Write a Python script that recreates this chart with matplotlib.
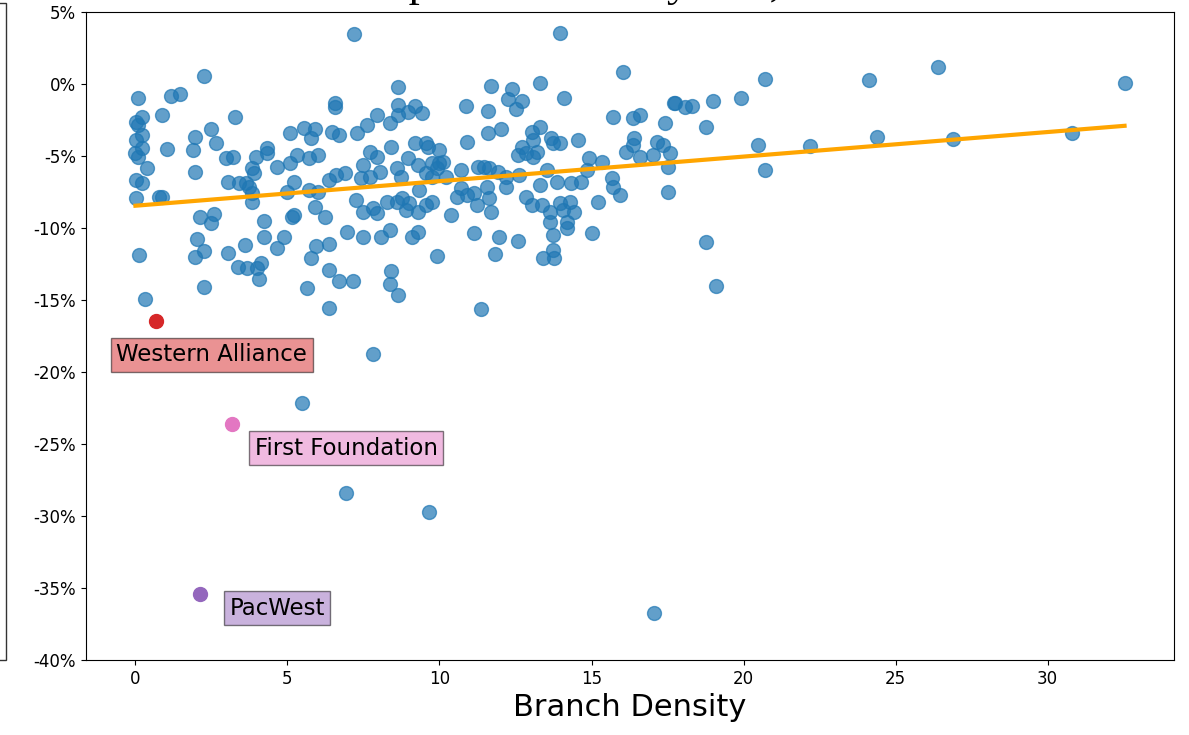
import matplotlib.pyplot as plt
from matplotlib.patches import Rectangle
from matplotlib.ticker import PercentFormatter

plt.rcParams['axes.unicode_minus'] = False

# branch density (branches per $bn deposits) and share price change in %
density = [
    0.07, 0.23, 0.03, 0.07, 0.23, 0.03, 0.2, 0.0, 0.07, 0.39,
    0.03, 0.2, 0.03, 0.76, 0.86, 0.13, 0.33, 0.89, 1.18, 1.45,
    2.27, 1.05, 1.97, 1.88, 1.97, 2.5, 2.66, 3.26, 2.99, 3.22,
    3.03, 3.42, 3.65, 3.75, 3.82, 3.82, 3.91, 3.85, 3.98, 4.34,
    4.34, 4.67, 5.07, 5.07, 5.3, 5.23, 4.97, 5.56, 5.79, 5.92,
    5.72, 5.99, 5.72, 5.99, 5.89, 6.22, 6.45, 6.71, 6.55, 6.55,
    6.38, 6.61, 6.88, 7.3, 7.47, 7.43, 7.7, 7.7, 7.96, 8.03,
    7.96, 7.63, 8.36, 8.42, 8.62, 8.62, 8.59, 7.27, 7.47, 7.8,
    7.96, 8.29, 8.59, 2.11, 2.6, 2.5, 2.04, 2.27, 1.97, 3.03,
    3.59, 4.24, 4.24, 4.9, 4.64, 5.16, 5.23, 3.36, 3.68, 4.01,
    4.14, 4.08, 2.27, 5.63, 6.38, 5.79, 5.95, 6.38, 6.38, 6.71,
    7.14, 6.97, 7.47, 8.09, 8.36, 8.42, 8.36, 8.62, 7.2,
    13.95, 16.05, 11.71, 12.37, 12.24, 12.7, 12.5, 13.29, 14.11, 10.86,
    11.58, 8.62, 8.95, 9.18, 9.44, 15.69, 16.35, 16.58, 17.43, 17.7,
    11.58, 12.01, 10.92, 13.03, 13.32, 13.06, 13.68, 13.72, 13.95, 14.54,
    12.7, 12.57, 12.86, 13.22, 13.06, 9.18, 9.57, 9.61, 9.97, 8.95,
    9.28, 8.75, 9.77, 10.0, 10.1, 9.93, 9.57, 9.74, 10.23, 10.72,
    11.25, 11.48, 11.64, 11.91, 12.2, 12.2, 12.63, 13.55, 13.85, 13.29,
    14.34, 14.67, 14.84, 14.93, 15.33, 15.66, 15.69, 15.92, 16.15, 16.41,
    16.35, 16.58, 17.01, 17.14, 17.34, 17.57, 17.5, 17.5, 15.2, 15.0,
    8.78, 9.01, 8.91, 9.28, 9.57, 9.77, 9.34, 10.39, 10.56, 10.72,
    10.89, 11.15, 11.22, 11.64, 11.71, 11.55, 12.86, 13.03, 13.36, 13.62,
    13.62, 13.95, 14.05, 14.28, 14.44, 14.18, 14.18, 13.72, 13.72, 13.39,
    13.78, 9.08, 9.28, 11.15, 11.97, 12.57, 9.93, 11.81, 11.35,
    17.73, 18.06, 18.29, 18.98, 19.93, 20.72, 24.14, 26.41, 18.78, 20.49,
    20.72, 22.2, 24.38, 26.88, 18.75, 19.11, 30.79, 32.53, 5.49, 7.8,
    6.91, 9.64, 17.07,
]
price_change = [
    -0.97, -2.29, -2.64, -2.85, -3.54, -3.89, -4.44, -4.79, -5.07, -5.83,
    -6.67, -6.88, -7.92, -7.85, -7.85, -11.88, -14.93, -2.15, -0.83, -0.69,
    0.56, -4.51, -3.68, -4.58, -6.11, -3.13, -4.1, -2.29, -5.14, -5.07,
    -6.81, -6.88, -6.88, -7.15, -7.57, -8.19, -6.18, -5.83, -5.07, -4.44,
    -4.79, -5.76, -3.4, -5.49, -4.93, -6.81, -7.5, -3.06, -3.75, -3.13,
    -5.14, -4.93, -7.36, -7.5, -8.54, -9.24, -3.33, -3.54, -1.32, -1.6,
    -6.67, -6.32, -6.18, -3.4, -5.63, -6.53, -6.46, -4.72, -5.07, -6.11,
    -2.15, -2.85, -2.71, -4.38, -0.21, -1.46, -5.83, -8.06, -8.89, -8.61,
    -8.96, -8.19, -8.19, -9.24, -9.03, -9.65, -10.76, -11.6, -12.01, -11.74,
    -11.18, -9.51, -10.63, -10.63, -11.39, -9.24, -9.1, -12.71, -12.78, -12.78,
    -12.43, -13.54, -14.1, -14.17, -15.56, -12.08, -11.25, -11.11, -12.92, -13.68,
    -13.68, -10.28, -10.63, -10.63, -10.14, -13.01, -13.89, -14.65, 3.47,
    3.54, 0.83, -0.14, -0.35, -1.04, -1.18, -1.74, 0.07, -0.97, -1.53,
    -1.88, -2.15, -1.94, -1.53, -2.01, -2.29, -2.36, -2.15, -2.71, -1.32,
    -3.4, -3.13, -4.03, -3.33, -2.99, -3.89, -3.75, -4.1, -4.1, -3.89,
    -4.38, -4.93, -4.79, -4.72, -5.07, -4.1, -4.1, -4.38, -4.58, -5.14,
    -5.63, -6.46, -5.49, -5.49, -5.42, -5.83, -6.18, -6.46, -6.46, -5.97,
    -5.76, -5.76, -5.83, -6.11, -6.46, -7.15, -6.32, -5.97, -6.81, -7.01,
    -6.88, -6.81, -5.97, -5.14, -5.42, -6.53, -7.15, -7.71, -4.72, -3.75,
    -4.24, -5.07, -4.93, -4.03, -4.24, -4.79, -5.76, -7.5, -8.19, -10.35,
    -7.92, -8.26, -8.75, -8.89, -8.4, -8.19, -7.36, -9.1, -7.85, -7.22,
    -7.71, -7.57, -8.4, -7.92, -8.89, -7.15, -7.85, -8.4, -8.4, -8.89,
    -9.58, -8.26, -8.75, -8.19, -8.89, -9.58, -10.0, -10.49, -11.53, -12.08,
    -12.08, -10.63, -10.28, -10.35, -10.63, -10.9, -11.94, -11.81, -15.63,
    -1.32, -1.6, -1.53, -1.18, -0.97, 0.35, 0.28, 1.18, -2.99, -4.24,
    -5.97, -4.31, -3.68, -3.82, -10.97, -14.03, -3.4, 0.07, -22.15, -18.75,
    -28.4, -29.72, -36.74,
]

# banks called out on the chart
banks = ['Western Alliance', 'First Foundation', 'PacWest']
bank_density = [0.69, 3.16, 2.14]
bank_change = [-16.45, -23.61, -35.42]
bank_colors = ['tab:red', 'tab:pink', 'tab:purple']
label_offsets = [(-40, -34), (23, -24), (29, -14)]

# least squares trend line
trend_intercept = -8.45
trend_slope = 0.1706

fig = plt.figure(figsize=(11.89, 7.35), dpi=100)
ax = fig.add_axes([0.0723, 0.102, 0.9151, 0.8816])

ax.scatter(density, price_change, s=100, color='tab:blue', alpha=0.7)

x_end = max(density)
ax.plot([0, x_end], [trend_intercept, trend_intercept + trend_slope * x_end],
        color='orange', linewidth=3, zorder=3)

for name, bx, by, col, off in zip(banks, bank_density, bank_change, bank_colors, label_offsets):
    ax.scatter([bx], [by], s=100, color=col, zorder=4)
    ax.annotate(name, (bx, by), xytext=off, textcoords='offset pixels',
                ha='left', va='center', fontsize=16.5,
                bbox=dict(facecolor=col, alpha=0.5))

ax.set_ylim(-40, 5)
ax.set_yticks(range(-40, 6, 5))
ax.yaxis.set_major_formatter(PercentFormatter(xmax=100, decimals=0))
ax.tick_params(labelsize=12)
ax.set_xlabel('Branch Density', fontsize=22)

# suptitle sits mostly above the top edge of the saved figure
fig.text(296 / 1189, 1 + 4 / 735, 'Stock performance by size, March 2023',
         family='Liberation Serif', fontsize=32, va='baseline', ha='left')

# edge of the neighbouring panel
fig.patches.append(Rectangle((-0.1, 75 / 735), 0.1 + 6 / 1189, (660 - 3) / 735,
                             transform=fig.transFigure, fill=False,
                             edgecolor='#333333', linewidth=1))

fig.savefig('out.png', dpi=100)
